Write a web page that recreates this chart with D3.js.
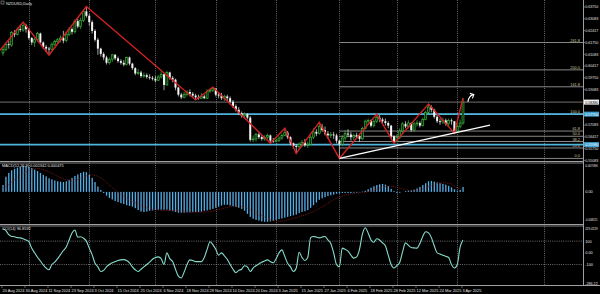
<!DOCTYPE html>
<html><head><meta charset="utf-8">
<script src="https://cdn.jsdelivr.net/npm/d3@7"></script>
<style>html,body{margin:0;padding:0;background:#000;overflow:hidden}svg{display:block}</style>
</head><body><svg id="c" width="600" height="294"></svg>
<script>
// ---------------- DATA ----------------
const symbolTitle = "NZDUSD,Daily";
const firstOpen = 0.6115;
const closes = [
0.6135,0.6165,0.6160,0.6230,0.6220,0.6250,0.6245,0.6270,0.6250,0.6200,
0.6175,0.6190,0.6225,0.6175,0.6150,0.6140,0.6135,0.6165,0.6180,0.6190,
0.6200,0.6185,0.6220,0.6250,0.6235,0.6295,0.6265,0.6300,0.6350,0.6325,
0.6290,0.6240,0.6190,0.6140,0.6110,0.6090,0.6060,0.6080,0.6105,0.6085,
0.6070,0.6060,0.6050,0.6090,0.6055,0.6030,0.6000,0.6005,0.5985,0.5990,
0.5980,0.5975,0.5970,0.5960,0.5980,0.5995,0.5935,0.6005,0.5975,0.5965,
0.5920,0.5880,0.5865,0.5880,0.5895,0.5885,0.5875,0.5865,0.5860,0.5870,
0.5860,0.5900,0.5905,0.5915,0.5880,0.5875,0.5860,0.5870,0.5860,0.5840,
0.5815,0.5795,0.5775,0.5760,0.5770,0.5750,0.5625,0.5630,0.5655,0.5640,
0.5630,0.5640,0.5650,0.5620,0.5615,0.5622,0.5635,0.5650,0.5665,0.5640,
0.5605,0.5590,0.5585,0.5600,0.5610,0.5595,0.5600,0.5640,0.5670,0.5660,
0.5700,0.5680,0.5660,0.5650,0.5655,0.5650,0.5620,0.5600,0.5635,0.5660,
0.5655,0.5640,0.5650,0.5645,0.5630,0.5690,0.5730,0.5735,0.5705,0.5730,
0.5750,0.5740,0.5730,0.5720,0.5705,0.5645,0.5615,0.5640,0.5675,0.5715,
0.5700,0.5720,0.5680,0.5715,0.5720,0.5705,0.5740,0.5780,0.5810,0.5795,
0.5755,0.5730,0.5725,0.5735,0.5715,0.5735,0.5730,0.5675,0.5700,0.5720,
0.5838];
const highs = [
0.6150,0.6175,0.6185,0.6240,0.6245,0.6260,0.6275,0.6290,0.6280,0.6255,
0.6205,0.6200,0.6235,0.6230,0.6180,0.6160,0.6150,0.6175,0.6190,0.6200,
0.6215,0.6240,0.6235,0.6260,0.6260,0.6305,0.6310,0.6315,0.6360,0.6378,
0.6335,0.6300,0.6250,0.6200,0.6145,0.6120,0.6100,0.6090,0.6110,0.6110,
0.6095,0.6080,0.6075,0.6095,0.6095,0.6060,0.6035,0.6025,0.6015,0.6005,
0.6000,0.5995,0.5985,0.5985,0.5990,0.6010,0.6000,0.6015,0.6010,0.5985,
0.5970,0.5925,0.5890,0.5895,0.5905,0.5910,0.5895,0.5885,0.5880,0.5890,
0.5880,0.5910,0.5915,0.5923,0.5915,0.5895,0.5890,0.5880,0.5880,0.5870,
0.5850,0.5825,0.5810,0.5785,0.5780,0.5775,0.5760,0.5650,0.5665,0.5665,
0.5650,0.5650,0.5660,0.5655,0.5635,0.5630,0.5645,0.5660,0.5690,0.5675,
0.5645,0.5610,0.5600,0.5610,0.5625,0.5630,0.5615,0.5650,0.5690,0.5685,
0.5724,0.5715,0.5700,0.5675,0.5670,0.5670,0.5660,0.5625,0.5650,0.5680,
0.5685,0.5670,0.5660,0.5665,0.5660,0.5700,0.5740,0.5745,0.5740,0.5740,
0.5770,0.5765,0.5750,0.5745,0.5730,0.5710,0.5650,0.5655,0.5690,0.5725,
0.5730,0.5735,0.5725,0.5725,0.5735,0.5730,0.5750,0.5790,0.5827,0.5820,
0.5800,0.5765,0.5745,0.5750,0.5745,0.5745,0.5745,0.5730,0.5710,0.5740,
0.5861];
const lows = [
0.6100,0.6125,0.6140,0.6150,0.6205,0.6215,0.6235,0.6235,0.6230,0.6190,
0.6160,0.6150,0.6180,0.6165,0.6140,0.6120,0.6104,0.6130,0.6155,0.6170,
0.6175,0.6170,0.6175,0.6210,0.6220,0.6225,0.6255,0.6250,0.6290,0.6315,
0.6270,0.6225,0.6180,0.6105,0.6095,0.6075,0.6050,0.6050,0.6065,0.6075,
0.6060,0.6050,0.6040,0.6045,0.6045,0.6020,0.5990,0.5990,0.5975,0.5975,
0.5970,0.5965,0.5960,0.5950,0.5960,0.5970,0.5905,0.5930,0.5965,0.5950,
0.5905,0.5870,0.5855,0.5860,0.5870,0.5870,0.5865,0.5850,0.5852,0.5855,
0.5855,0.5855,0.5890,0.5895,0.5870,0.5860,0.5850,0.5845,0.5845,0.5830,
0.5805,0.5785,0.5765,0.5750,0.5750,0.5740,0.5615,0.5612,0.5615,0.5630,
0.5620,0.5620,0.5630,0.5605,0.5608,0.5610,0.5612,0.5625,0.5645,0.5630,
0.5595,0.5575,0.5548,0.5570,0.5585,0.5585,0.5580,0.5595,0.5630,0.5645,
0.5655,0.5670,0.5650,0.5630,0.5635,0.5630,0.5605,0.5520,0.5590,0.5620,
0.5640,0.5620,0.5625,0.5630,0.5615,0.5625,0.5685,0.5715,0.5695,0.5695,
0.5720,0.5725,0.5715,0.5705,0.5690,0.5635,0.5605,0.5610,0.5630,0.5665,
0.5690,0.5690,0.5670,0.5670,0.5700,0.5695,0.5700,0.5735,0.5770,0.5780,
0.5745,0.5720,0.5710,0.5715,0.5705,0.5700,0.5710,0.5663,0.5665,0.5690,
0.5710];
// ZigZag turning points (bar index, price)
const zzIdx   = [0,7,16,29,67,73,93,98,102,110,117,130,136,148,157,160];
const zzPrice = [0.6130,0.6290,0.6104,0.6378,0.5850,0.5923,0.5605,0.5690,0.5548,0.5724,0.5520,0.5770,0.5605,0.5827,0.5663,0.5861];
// Horizontal levels
const cyanLevels = [0.5770, 0.5598];
// Fibonacci (anchor bar index, low, high) and levels
const fibAnchorIdx = 117, fibLow = 0.5520, fibHigh = 0.5770;
const fibLevels = [0, 23.6, 38.2, 50, 61.8, 100, 161.8, 200, 261.8];
// trend line (bar index, price)
const trendIdx = [117, 169.4];
const trendPrice = [0.5520, 0.5708];
// month separators (bar index)
const gridIdx = [9,30,53,74,95,117,137,158,188];
// price axis tick labels
const priceTicks = [0.63750,0.63083,0.62417,0.61750,0.61083,0.60417,0.59750,0.59083,0.58417,0.57750,0.57083,0.56417,0.55750,0.55083];
// MACD (units of 1e-4)
const macdMain = [
18,40,50,57,61,64,66,68,68,66,
63,59,55,50,45,41,36,33,30,28,
27,26,28,32,37,42,46,50,53,52,
45,37,26,14,5,-3,-10,-16,-20,-24,
-27,-30,-32,-35,-37,-39,-43,-48,-52,-53,
-52,-50,-49,-48,-47,-47,-47,-47,-49,-51,
-53,-55,-55,-55,-54,-54,-53,-53,-53,-52,
-50,-49,-47,-45,-42,-39,-36,-34,-34,-36,
-38,-40,-42,-45,-50,-58,-66,-71,-74,-76,
-78,-79,-79,-78,-76,-74,-72,-70,-68,-66,
-64,-62,-60,-56,-53,-51,-48,-42,-35,-28,
-21,-17,-14,-11,-9,-7,-5,-4,-3,-3,
-3,-3,-2,-2,-1,1,3,7,11,15,
18,20,21,19,15,8,2,-3,-2,0,
2,3,4,6,9,13,18,23,28,29,
27,25,23,21,19,16,12,7,3,5,
13];
const macdSignal = [
10,14,20,26,32,38,43,48,52,56,
59,61,62,61,59,56,53,49,45,41,
38,35,32,30,30,31,33,36,39,42,
44,45,44,41,37,32,25,18,11,5,
-1,-7,-12,-17,-21,-25,-29,-32,-36,-39,
-42,-44,-46,-47,-48,-49,-49,-49,-49,-49,
-49,-50,-51,-52,-53,-53,-54,-54,-54,-54,
-53,-53,-52,-51,-49,-47,-45,-43,-41,-39,
-38,-38,-38,-39,-41,-43,-47,-51,-55,-59,
-63,-67,-71,-74,-76,-77,-77,-77,-76,-74,
-72,-70,-68,-66,-63,-61,-58,-55,-52,-48,
-44,-40,-35,-30,-25,-21,-17,-14,-11,-9,
-7,-5,-4,-3,-3,-2,-1,0,2,4,
7,10,12,14,15,15,14,12,10,8,
6,4,3,3,4,5,8,11,14,17,
20,22,24,24,24,23,21,15,11,8,
5];
const macdTicks = [71, 0, -82.2];
const macdTickLabels = ["0.007096", "0.00", "-0.008221"];
const macdTitle = "MACD(12,26,9) 0.001342 0.000475";
// CCI
const cci = [
205,190,155,140,138,130,128,120,110,95,
40,0,-38,-70,-103,-130,-145,-100,-80,-50,
-15,20,50,110,170,195,135,137,125,100,
40,-15,-90,-120,-160,-150,-120,-100,-85,-75,
-65,-60,-58,-65,-85,-120,-145,-160,-140,-120,
-100,-80,-55,-40,-35,-50,-100,0,-50,-75,
-140,-200,-215,-165,-100,-60,-65,-75,-75,-75,
-40,30,95,70,30,-20,0,-25,-55,-100,
-140,-170,-150,-140,-110,-120,-160,-130,-110,-95,
-80,-70,-60,-75,-85,-50,0,25,-30,-90,
-120,-160,-130,5,-40,-65,-40,130,140,135,
128,135,140,110,80,0,-100,-120,40,30,
15,-20,-45,-35,30,160,215,170,110,90,
120,110,85,60,-20,-100,-130,-110,-80,10,
85,65,45,42,40,80,140,180,170,130,
60,0,-10,-20,-30,-40,-100,-130,-100,50,
110];
const cciTicks = [229.41, 100, 0, -100, -286.22];
const cciTickLabels = ["229.4129", "100", "0.00", "-100", "-286.22"];
const cciTitle = "CCI(14) 96.8592";
const cciLevels = [100, -100];

// ---------------- TRADING CALENDAR ----------------
const dates = [];
{
  let d = new Date(2024, 7, 20);
  while (dates.length < closes.length) {
    const wd = d.getDay();
    const md = (d.getMonth()+1)*100 + d.getDate();
    if (wd !== 0 && wd !== 6 && md !== 1225 && md !== 101) dates.push(new Date(d));
    d.setDate(d.getDate()+1);
  }
}
const fmtDate = d3.timeFormat("%-d %b %Y");

// ---------------- SCALES ----------------
const svg = d3.select("#c");
const FONT = "'Liberation Sans Narrow', 'Liberation Sans', Arial, sans-serif";
const FS = 3.9;
const AXX = 583;
const x  = d3.scaleLinear().domain([0, 160]).range([3, 463]);
const yP = d3.scaleLinear().domain([0.5528, 0.6375]).range([157, 7]);
const yM = d3.scaleLinear().domain([-82.2, 71]).range([223, 165]);
const yC = d3.scaleLinear().domain([-286.22, 229.41]).range([286.3, 226]);

svg.append("rect").attr("width",600).attr("height",294).attr("fill","#000");
const defs = svg.append("defs");
defs.append("clipPath").attr("id","cpMain").append("rect").attr("x",0).attr("y",0).attr("width",AXX).attr("height",161);
defs.append("clipPath").attr("id","cpMacd").append("rect").attr("x",0).attr("y",163).attr("width",AXX).attr("height",61);
defs.append("clipPath").attr("id","cpCci").append("rect").attr("x",0).attr("y",226).attr("width",AXX).attr("height",59);

// grid (month separators)
svg.append("g").selectAll("line").data(gridIdx).join("line")
  .attr("x1", d => Math.round(x(d))+0.5).attr("x2", d => Math.round(x(d))+0.5)
  .attr("y1", 0).attr("y2", 285)
  .attr("stroke", "#9a9a9a").attr("stroke-width", 0.7).attr("stroke-dasharray", "1,1.2");

// ---------------- MAIN PANEL ----------------
const gMain = svg.append("g").attr("clip-path","url(#cpMain)");

// fib levels
const fibG = gMain.append("g");
fibLevels.forEach(lv => {
  const p = fibLow + (fibHigh - fibLow) * lv / 100;
  const yy = yP(p);
  fibG.append("line").attr("x1", x(fibAnchorIdx)).attr("x2", AXX).attr("y1", yy).attr("y2", yy)
    .attr("stroke", "#a8a8a8").attr("stroke-width", 0.8);
  fibG.append("text").attr("x", 580).attr("y", yy - 1).attr("text-anchor","end")
    .attr("font-family", FONT).attr("font-size", FS).attr("fill", "#c8c39a").text(lv.toFixed(1));
});

// bid line
const lastClose = closes[closes.length-1];
gMain.append("line").attr("x1",0).attr("x2",AXX).attr("y1",yP(lastClose)).attr("y2",yP(lastClose))
  .attr("stroke","#8c8c8c").attr("stroke-width",0.8);

// cyan levels
gMain.selectAll(".cy").data(cyanLevels).join("line")
  .attr("x1",0).attr("x2",AXX).attr("y1",d=>yP(d)).attr("y2",d=>yP(d))
  .attr("stroke","#4fb4dc").attr("stroke-width",1.6);

// candles
const bars = closes.map((c,i) => {
  const o = i === 0 ? firstOpen : closes[i-1];
  return {i, o, c, h: Math.max(highs[i], o, c), l: Math.min(lows[i], o, c)};
});
const GREEN = "#3fbf3f";
const cg = gMain.append("g");
cg.selectAll("line").data(bars).join("line")
  .attr("x1", d => x(d.i)).attr("x2", d => x(d.i))
  .attr("y1", d => yP(d.h)).attr("y2", d => yP(d.l))
  .attr("stroke", d => d.c >= d.o ? GREEN : "#e6e6e6").attr("stroke-width", 0.7);
cg.selectAll("rect").data(bars).join("rect")
  .attr("x", d => x(d.i) - 1).attr("width", 2)
  .attr("y", d => yP(Math.max(d.o, d.c)))
  .attr("height", d => Math.max(0.8, Math.abs(yP(d.o) - yP(d.c))))
  .attr("fill", d => d.c >= d.o ? "#0b2a0b" : "#f4f4f4")
  .attr("stroke", d => d.c >= d.o ? GREEN : "none").attr("stroke-width", 0.6);

// zigzag
const zz = zzIdx.map((k, j) => [k === 0 ? x(k) - 3 : x(k), yP(zzPrice[j])]);
gMain.append("path").attr("d", d3.line()(zz)).attr("fill","none")
  .attr("stroke","#d42222").attr("stroke-width",1.4).attr("stroke-linejoin","miter");

// trend line
gMain.append("line")
  .attr("x1", x(trendIdx[0])).attr("y1", yP(trendPrice[0]))
  .attr("x2", x(trendIdx[1])).attr("y2", yP(trendPrice[1]))
  .attr("stroke","#ffffff").attr("stroke-width",1.3);

// hand-drawn arrow annotation
{
  const ax = x(161), ay = yP(0.5845);
  gMain.append("path")
    .attr("d", `M${ax+2},${ay+1} Q${ax+3},${ay-5} ${ax+7},${ay-6}`)
    .attr("fill","none").attr("stroke","#fff").attr("stroke-width",1.1);
  gMain.append("path")
    .attr("d", `M${ax+4},${ay-7.5} L${ax+8},${ay-6.2} L${ax+6.5},${ay-2.5}`)
    .attr("fill","none").attr("stroke","#fff").attr("stroke-width",1.1);
}

// title
svg.append("rect").attr("x",1).attr("y",1).attr("width",3).attr("height",3).attr("fill","none").attr("stroke","#bbb").attr("stroke-width",0.5);
svg.append("text").attr("x",6).attr("y",4.5).attr("font-family",FONT).attr("font-size",FS).attr("fill","#e0e0e0").text(symbolTitle);

// ---------------- MACD PANEL ----------------
const gM = svg.append("g").attr("clip-path","url(#cpMacd)");
gM.selectAll("rect").data(macdMain).join("rect")
  .attr("x", (d,i) => x(i) - 0.6).attr("width", 1.3)
  .attr("y", d => Math.min(yM(d), yM(0)))
  .attr("height", d => Math.abs(yM(d) - yM(0)))
  .attr("fill", "#56aee6");
gM.append("path").attr("d", d3.line().x((d,i)=>x(i)).y(d=>yM(d))(macdSignal))
  .attr("fill","none").attr("stroke","#8e1c1c").attr("stroke-width",0.8).attr("stroke-dasharray","1,1");
svg.append("text").attr("x",2).attr("y",167).attr("font-family",FONT).attr("font-size",FS).attr("fill","#e0e0e0").text(macdTitle);

// ---------------- CCI PANEL ----------------
const gC = svg.append("g").attr("clip-path","url(#cpCci)");
gC.selectAll("line").data(cciLevels).join("line")
  .attr("x1",0).attr("x2",AXX).attr("y1",d=>yC(d)).attr("y2",d=>yC(d))
  .attr("stroke","#9a9a9a").attr("stroke-width",0.7).attr("stroke-dasharray","1,1.2");
gC.append("path").attr("d", d3.line().x((d,i)=>x(i)).y(d=>yC(d)).curve(d3.curveMonotoneX)(cci))
  .attr("fill","none").attr("stroke","#86dccd").attr("stroke-width",1.1);
svg.append("text").attr("x",2).attr("y",230).attr("font-family",FONT).attr("font-size",FS).attr("fill","#e0e0e0").text(cciTitle);

// ---------------- FRAME ----------------
const frame = svg.append("g").attr("stroke","#a0a0a0");
frame.append("line").attr("x1",0).attr("x2",AXX).attr("y1",161.5).attr("y2",161.5).attr("stroke-width",1);
frame.append("line").attr("x1",0).attr("x2",AXX).attr("y1",163).attr("y2",163).attr("stroke-width",0.8);
frame.append("line").attr("x1",0).attr("x2",AXX).attr("y1",224.5).attr("y2",224.5).attr("stroke-width",1);
frame.append("line").attr("x1",0).attr("x2",AXX).attr("y1",226).attr("y2",226).attr("stroke-width",0.8);
frame.append("line").attr("x1",0).attr("x2",AXX+17).attr("y1",285.5).attr("y2",285.5).attr("stroke-width",1);
frame.append("line").attr("x1",AXX+0.5).attr("x2",AXX+0.5).attr("y1",0).attr("y2",286).attr("stroke-width",1);

// ---------------- RIGHT AXES ----------------
const axT = svg.append("g").attr("font-family",FONT).attr("font-size",FS).attr("fill","#e0e0e0");
const LX = AXX + 2.2;
const MAXW = 13;
// shrink the font of a label until it fits the axis strip
function fitText(t, maxw) {
  const mw = maxw || MAXW;
  const w = t.node().getComputedTextLength();
  if (w > mw) t.attr("font-size", (FS * mw / w).toFixed(2));
  return t;
}
priceTicks.forEach(p => {
  axT.append("line").attr("x1",AXX).attr("x2",AXX+2).attr("y1",yP(p)).attr("y2",yP(p)).attr("stroke","#a0a0a0").attr("stroke-width",0.6);
  fitText(axT.append("text").attr("x",LX).attr("y",yP(p)+1.4).text(p.toFixed(5)));
});
// highlighted price boxes
cyanLevels.forEach(p => {
  axT.append("rect").attr("x",AXX+1).attr("y",yP(p)-2.5).attr("width",15).attr("height",5).attr("fill","#3c9fd0");
  fitText(axT.append("text").attr("x",LX).attr("y",yP(p)+1.4).attr("fill","#fff").text(p.toFixed(5)));
});
axT.append("rect").attr("x",AXX+1).attr("y",yP(lastClose)-2.5).attr("width",15).attr("height",5).attr("fill","#f2f2f2");
fitText(axT.append("text").attr("x",LX).attr("y",yP(lastClose)+1.4).attr("fill","#000").text(lastClose.toFixed(5)));

macdTicks.forEach((v,k) => {
  fitText(axT.append("text").attr("x",LX).attr("y",Math.max(167,Math.min(221,yM(v)+1.4))).text(macdTickLabels[k]), 12.5);
});
cciTicks.forEach((v,k) => {
  fitText(axT.append("text").attr("x",LX).attr("y",Math.min(284.5,Math.max(230,yC(v)+1.4))).text(cciTickLabels[k]), 12.5);
});

// ---------------- X AXIS ----------------
const xg = svg.append("g").attr("font-family",FONT).attr("font-size",FS).attr("fill","#e0e0e0");
d3.range(0, closes.length, 8).forEach(i => {
  xg.append("line").attr("x1",x(i)-1).attr("x2",x(i)-1).attr("y1",285.5).attr("y2",288).attr("stroke","#a0a0a0").attr("stroke-width",0.6);
  xg.append("text").attr("x",x(i)-0.5).attr("y",291.5).text(fmtDate(dates[i]));
});
</script>
</body></html>
